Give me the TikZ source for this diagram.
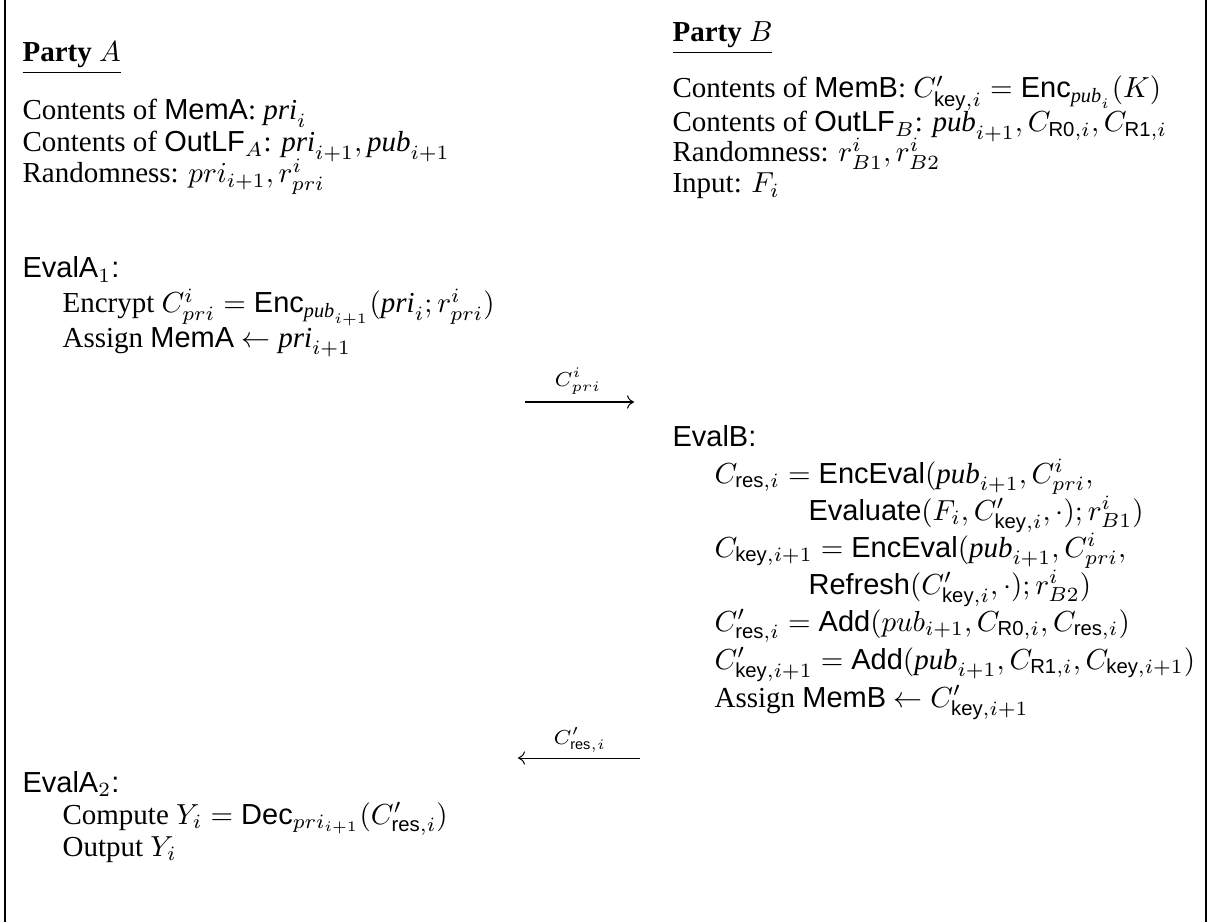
\documentclass[tikz,border=0pt]{standalone}
\usepackage{amsmath}
\usepackage{fontspec}
\setmainfont{Liberation Serif}
\setsansfont{Liberation Sans}
\usetikzlibrary{arrows.meta}
\newcommand\ssf[1]{\text{\sffamily #1}}
\newcommand\tit[1]{\text{\itshape #1}}
\tikzset{
  txt/.style={anchor=base west, inner sep=0pt, font=\fontsize{10}{12}\selectfont},
  lbl/.style={anchor=base, inner sep=0pt, font=\fontsize{10}{12}\selectfont},
  msg/.style={line width=0.35pt, -{To[length=2.4pt,width=4.6pt]}},
  frame/.style={line width=0.7pt}
}
\begin{document}
\begin{tikzpicture}[x=0.345pt,y=-0.345pt]
\useasboundingbox (0,0) rectangle (1208,922);
\coordinate (ft) at (5,0); \coordinate (fb) at (5,922);
\coordinate (gt) at (1206,0); \coordinate (gb) at (1206,922);
\draw[frame] (ft) -- (fb);
\draw[frame] (gt) -- (gb);
% Party A
\node[txt] (pa) at (22,62) {\underline{\textbf{Party} $A$}};
\node[txt] (a1) at (22,120) {Contents of \textsf{MemA}: $\tit{pri}_i$};
\node[txt] (a2) at (22,152) {Contents of $\ssf{OutLF}_A$: $\tit{pri}_{i+1}, \tit{pub}_{i+1}$};
\node[txt] (a3) at (22,183) {Randomness: $pri_{i+1}, r^i_{pri}$};
\node[txt] (e1) at (22,278) {\textsf{EvalA}$_1$\textsf{:}};
\node[txt] (e1a) at (62,313) {Encrypt $C^i_{pri} = \ssf{Enc}_{\tit{pub}_{i+1}}(\tit{pri}_i; r^i_{pri})$};
\node[txt] (e1b) at (62,347) {Assign \textsf{MemA} $\leftarrow \tit{pri}_{i+1}$};
% Party B
\node[txt] (pb) at (672,42) {\underline{\textbf{Party} $B$}};
\node[txt] (b1) at (672,98) {Contents of \textsf{MemB}: $C'_{\ssf{key},i} = \ssf{Enc}_{\tit{pub}_i}(K)$};
\node[txt] (b2) at (672,132) {Contents of $\ssf{OutLF}_B$: $\tit{pub}_{i+1}, C_{\ssf{R0},i}, C_{\ssf{R1},i}$};
\node[txt] (b3) at (672,162) {Randomness: $r^i_{B1}, r^i_{B2}$};
\node[txt] (b4) at (672,193) {Input: $F_i$};
% EvalB
\node[txt] (eb) at (672,446) {\textsf{EvalB:}};
\node[txt] (eb1) at (714,483) {$C_{\ssf{res},i} = \ssf{EncEval}(\tit{pub}_{i+1}, C^i_{pri},$};
\node[txt] (eb2) at (808,520) {$\ssf{Evaluate}(F_i, C'_{\ssf{key},i}, \cdot); r^i_{B1})$};
\node[txt] (eb3) at (714,557) {$C_{\ssf{key},i+1} = \ssf{EncEval}(\tit{pub}_{i+1}, C^i_{pri},$};
\node[txt] (eb4) at (808,594) {$\ssf{Refresh}(C'_{\ssf{key},i}, \cdot); r^i_{B2})$};
\node[txt] (eb5) at (714,631) {$C'_{\ssf{res},i} = \ssf{Add}(pub_{i+1}, C_{\ssf{R0},i}, C_{\ssf{res},i})$};
\node[txt] (eb6) at (714,669) {$C'_{\ssf{key},i+1} = \ssf{Add}(\tit{pub}_{i+1}, C_{\ssf{R1},i}, C_{\ssf{key},i+1})$};
\node[txt] (eb7) at (714,707) {Assign \textsf{MemB} $\leftarrow C'_{\ssf{key},i+1}$};
% EvalA2
\node[txt] (e2) at (22,792) {\textsf{EvalA}$_2$\textsf{:}};
\node[txt] (e2a) at (62,824) {Compute $Y_i = \ssf{Dec}_{pri_{i+1}}(C'_{\ssf{res},i})$};
\node[txt] (e2b) at (62,856) {Output $Y_i$};
% messages
\coordinate (m1s) at (525,402); \coordinate (m1e) at (634,402);
\draw[msg] (m1s) -- (m1e);
\node[lbl] (l1) at (578,386) {$\scriptstyle C^i_{pri}$};
\coordinate (m2s) at (640,758); \coordinate (m2e) at (518,758);
\draw[msg] (m2s) -- (m2e);
\node[lbl] (l2) at (580,744) {$\scriptstyle C'_{\ssf{res},i}$};
\end{tikzpicture}
\end{document}
